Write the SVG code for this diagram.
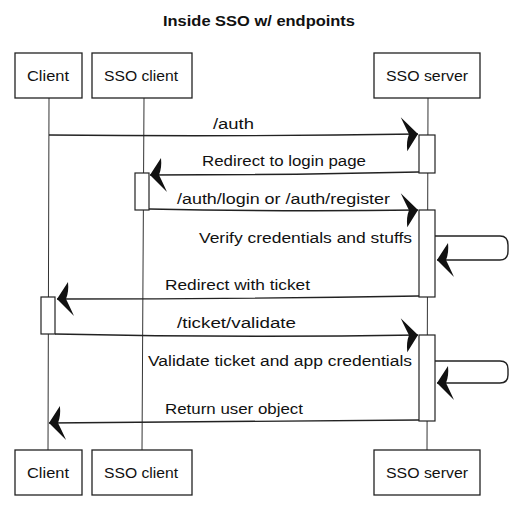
<svg xmlns="http://www.w3.org/2000/svg" width="519" height="520" viewBox="0 0 519 520">
<defs>
<style>
.box{fill:#fff;stroke:#222;stroke-width:1.3}
.act{fill:#fff;stroke:#222;stroke-width:1.2}
.life{fill:none;stroke:#333;stroke-width:1}
.msg{fill:none;stroke:#222;stroke-width:1.4}
text{font-family:"Liberation Sans","DejaVu Sans",sans-serif;font-size:14px;fill:#111}
.lbl{text-anchor:start}
.name{text-anchor:middle;font-size:14px}
.title{text-anchor:middle;font-size:15px;font-weight:600}
</style>
<marker id="ah" markerUnits="userSpaceOnUse" markerWidth="24" markerHeight="40" viewBox="-20 -20 22 40" refX="0" refY="0" orient="auto">
<path d="M0,0 L-17,-17 Q-12,-6 -9,0 Q-12,7 -11,17 Z" fill="#111"/>
</marker>
</defs>
<rect width="519" height="520" fill="#fff"/>
<text class="title" x="259" y="26" textLength="192" lengthAdjust="spacingAndGlyphs">Inside SSO w/ endpoints</text>

<g id="lifelines">
<line class="life" x1="49" y1="98" x2="48" y2="450"/>
<line class="life" x1="144" y1="98" x2="142" y2="450"/>
<line class="life" x1="428" y1="98" x2="427" y2="450"/>
</g>

<g id="client-top"><rect class="box" x="15" y="53" width="67" height="45"/><text class="name" x="48" y="81" textLength="42" lengthAdjust="spacingAndGlyphs">Client</text></g>
<g id="ssoclient-top"><rect class="box" x="92" y="53" width="100" height="45"/><text class="name" x="141" y="81" textLength="74" lengthAdjust="spacingAndGlyphs">SSO client</text></g>
<g id="ssoserver-top"><rect class="box" x="374" y="53" width="106" height="45"/><text class="name" x="427" y="81" textLength="82" lengthAdjust="spacingAndGlyphs">SSO server</text></g>

<g id="client-bottom"><rect class="box" x="15" y="450" width="67" height="45"/><text class="name" x="48" y="478" textLength="42" lengthAdjust="spacingAndGlyphs">Client</text></g>
<g id="ssoclient-bottom"><rect class="box" x="92" y="450" width="100" height="45"/><text class="name" x="141" y="478" textLength="74" lengthAdjust="spacingAndGlyphs">SSO client</text></g>
<g id="ssoserver-bottom"><rect class="box" x="374" y="450" width="106" height="45"/><text class="name" x="427" y="478" textLength="82" lengthAdjust="spacingAndGlyphs">SSO server</text></g>

<g id="activations">
<rect class="act" x="419" y="135" width="16" height="38"/>
<rect class="act" x="135" y="173" width="14" height="37"/>
<rect class="act" x="419" y="210" width="16" height="87"/>
<rect class="act" x="41" y="297" width="14" height="37"/>
<rect class="act" x="419" y="335" width="16" height="86"/>
</g>

<g id="connectors">
<path class="msg" d="M49,135 Q230,137 418,134" marker-end="url(#ah)"/>
<path class="msg" d="M419,172 Q290,175 150,175" marker-end="url(#ah)"/>
<path class="msg" d="M149,209 Q290,212 418,210" marker-end="url(#ah)"/>
<path class="msg" d="M435,236 L500,236 Q508,236 508,245 L508,251 Q508,260 500,260 L437,260" marker-end="url(#ah)"/>
<path class="msg" d="M419,296 Q240,299 57,299" marker-end="url(#ah)"/>
<path class="msg" d="M55,334 Q240,338 418,335" marker-end="url(#ah)"/>
<path class="msg" d="M435,361 L500,361 Q508,361 508,369 L508,375 Q508,383 500,383 L437,383" marker-end="url(#ah)"/>
<path class="msg" d="M419,420 Q240,422 49,423" marker-end="url(#ah)"/>
</g>

<g id="labels">
<text class="lbl" x="213" y="129" textLength="41" lengthAdjust="spacingAndGlyphs">/auth</text>
<text class="lbl" x="202" y="166" textLength="164" lengthAdjust="spacingAndGlyphs">Redirect to login page</text>
<text class="lbl" x="177" y="204" textLength="213" lengthAdjust="spacingAndGlyphs">/auth/login or /auth/register</text>
<text class="lbl" x="199" y="243" textLength="213" lengthAdjust="spacingAndGlyphs">Verify credentials and stuffs</text>
<text class="lbl" x="165" y="290" textLength="145" lengthAdjust="spacingAndGlyphs">Redirect with ticket</text>
<text class="lbl" x="177" y="328" textLength="119" lengthAdjust="spacingAndGlyphs">/ticket/validate</text>
<text class="lbl" x="148" y="366" textLength="264" lengthAdjust="spacingAndGlyphs">Validate ticket and app credentials</text>
<text class="lbl" x="165" y="414" textLength="138" lengthAdjust="spacingAndGlyphs">Return user object</text>
</g>
</svg>
